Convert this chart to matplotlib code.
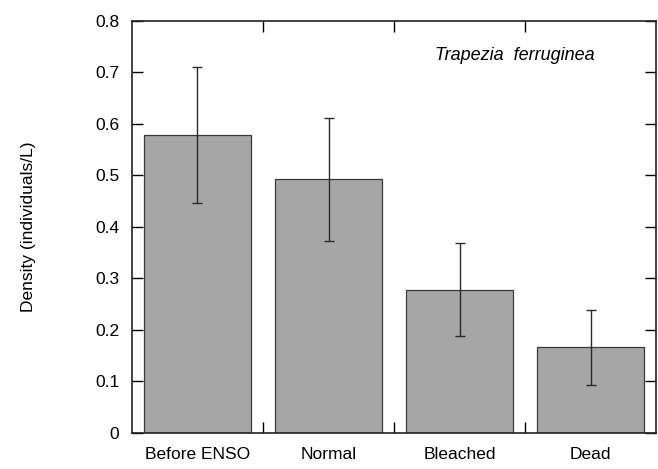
import numpy as np
import matplotlib.pyplot as plt

plt.rcParams['font.family'] = ['Liberation Sans', 'DejaVu Sans']

# dados
categorias = ['Before ENSO', 'Normal', 'Bleached', 'Dead']
densidade = [0.579, 0.492, 0.278, 0.166]
erro = [0.132, 0.120, 0.090, 0.072]

fig = plt.figure(figsize=(6.58, 4.69), dpi=100)
ax = fig.add_axes([0.2006, 0.0768, 0.7964, 0.879])

x = np.arange(len(categorias))
ax.bar(x, densidade, width=0.82, color='#a6a6a6', edgecolor='#3a3a3a',
       linewidth=0.9, zorder=2)
ax.errorbar(x, densidade, yerr=erro, fmt='none', ecolor='#2a2a2a',
            elinewidth=1.0, capsize=3.5, capthick=1.0, zorder=3)

ax.set_xlim(-0.5, 3.5)
ax.set_ylim(0, 0.8)
ax.set_yticks(np.arange(0, 0.81, 0.1))
ax.set_yticklabels(['0'] + [f'{v:.1f}' for v in np.arange(0.1, 0.81, 0.1)])
ax.set_xticks(x)
ax.set_xticklabels(categorias)
ax.set_xticks([0.5, 1.5, 2.5], minor=True)

ax.tick_params(axis='x', which='major', length=0, pad=10, labelsize=12.5)
ax.tick_params(axis='x', which='minor', direction='in', length=8,
               top=True, bottom=True, width=1.0)
ax.tick_params(axis='y', direction='in', length=8, left=True, right=True,
               pad=9, labelsize=12.5, width=1.0)

for s in ax.spines.values():
    s.set_linewidth(1.2)
    s.set_color('#222222')

ax.set_ylabel('Density (individuals/L)', fontsize=12.5, labelpad=43)
ax.text(2.42, 0.733, 'Trapezia  ferruginea', style='italic', fontsize=13,
        ha='center', va='center')

fig.savefig('out.png', dpi=100)
